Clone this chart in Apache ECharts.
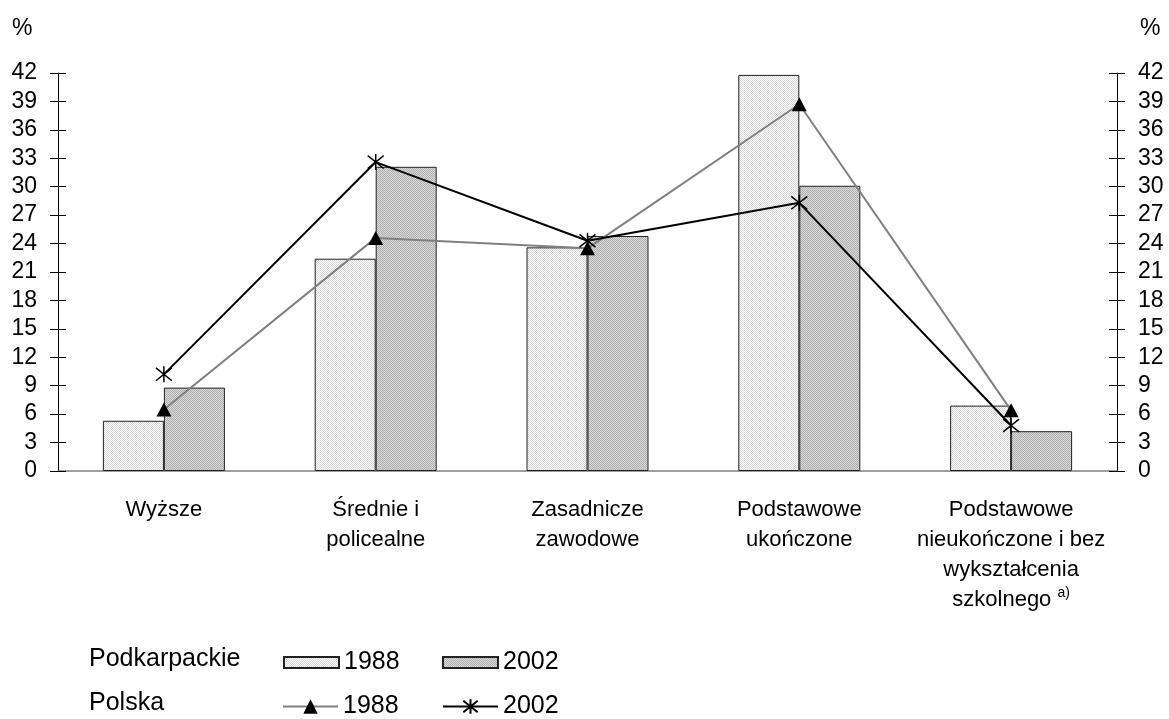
<!DOCTYPE html>
<html>
<head>
<meta charset="utf-8">
<script src="https://cdn.jsdelivr.net/npm/echarts@6/dist/echarts.min.js"></script>
<style>
  html, body { margin: 0; padding: 0; background: #fff; }
  #chart { width: 1169px; height: 719px; }
</style>
</head>
<body>
<div id="chart"></div>
<script>
// dane (%)
const categories = [
    'Wyższe',
    'Średnie i\npolicealne',
    'Zasadnicze\nzawodowe',
    'Podstawowe\nukończone',
    'Podstawowe\nnieukończone i bez\nwykształcenia\nszkolnego {sup|a)}'
];
const podkarpackie1988 = [5.3, 22.4, 23.6, 41.8, 6.9];
const podkarpackie2002 = [8.8, 32.1, 24.8, 30.1, 4.2];
const polska1988 = [6.5, 24.6, 23.5, 38.7, 6.4];
const polska2002 = [10.2, 32.6, 24.3, 28.3, 4.8];
const yTicks = { min: 0, max: 42, step: 3 };

const FONT = 'Liberation Sans';

// drobny wzór kropkowany jak w oryginale
function makePattern(base, dot) {
    const c = document.createElement('canvas');
    c.width = 2;
    c.height = 2;
    const ctx = c.getContext('2d');
    ctx.fillStyle = base;
    ctx.fillRect(0, 0, 2, 2);
    ctx.fillStyle = dot;
    ctx.fillRect(0, 0, 1, 1);
    ctx.fillRect(1, 1, 1, 1);
    return { image: c, repeat: 'repeat' };
}

const starPath = 'path://M0,0 L2,2 M2,0 L0,2 M1,-0.25 L1,2.25';

function valueAxis(position, inside) {
    return {
        type: 'value',
        position: position,
        min: yTicks.min,
        max: yTicks.max,
        interval: yTicks.step,
        axisLine: { show: !inside, lineStyle: { color: '#000', width: 1 } },
        axisTick: { show: true, inside: inside, length: 8, lineStyle: { color: '#000', width: 1 } },
        axisLabel: {
            show: !inside,
            margin: 21,
            color: '#000',
            fontFamily: FONT,
            fontSize: 23
        },
        splitLine: { show: false }
    };
}

function legendAt(name, left, top, h, icon) {
    const l = {
        data: [icon ? { name: name, icon: icon } : name],
        left: left,
        top: top,
        padding: 0,
        itemWidth: 55,
        itemHeight: h,
        selectedMode: false,
        formatter: n => n.split(' ')[1],
        textStyle: { color: '#000', fontFamily: FONT, fontSize: 25 }
    };
    return l;
}

const chart = echarts.init(document.getElementById('chart'));
const option = {
    animation: false,
    backgroundColor: '#fff',
    grid: { left: 58, right: 52, top: 73, bottom: 248, containLabel: false },
    xAxis: {
        type: 'category',
        data: categories,
        axisLine: { lineStyle: { color: '#808080', width: 1.5 } },
        axisTick: { show: false },
        axisLabel: {
            interval: 0,
            margin: 24,
            color: '#000',
            fontFamily: FONT,
            fontSize: 22,
            lineHeight: 30,
            align: 'center',
            rich: {
                sup: { fontSize: 14, fontFamily: FONT, color: '#000', padding: [0, 0, 14, 0] }
            }
        }
    },
    yAxis: [
        valueAxis('left', false),
        valueAxis('right', false),
        valueAxis('left', true),
        valueAxis('right', true)
    ],
    legend: [
        legendAt('Podkarpackie 1988', 283, 650, 11, 'rect'),
        legendAt('Podkarpackie 2002', 442, 650, 11, 'rect'),
        legendAt('Polska 1988', 282, 694, 18),
        legendAt('Polska 2002', 442, 694, 18)
    ],
    graphic: [
        { type: 'text', left: 12, top: 17, style: { text: '%', font: '23px ' + FONT, fill: '#000' } },
        { type: 'text', left: 1140, top: 17, style: { text: '%', font: '23px ' + FONT, fill: '#000' } },
        { type: 'text', left: 89, top: 647, style: { text: 'Podkarpackie', font: '25px ' + FONT, fill: '#000' } },
        { type: 'text', left: 89, top: 691, style: { text: 'Polska', font: '25px ' + FONT, fill: '#000' } }
    ],
    series: [
        {
            name: 'Podkarpackie 1988',
            type: 'bar',
            data: podkarpackie1988,
            barWidth: 61,
            barGap: '0%',
            itemStyle: { color: makePattern('#ffffff', '#d6d6d6'), borderColor: '#222', borderWidth: 1 }
        },
        {
            name: 'Podkarpackie 2002',
            type: 'bar',
            data: podkarpackie2002,
            barWidth: 61,
            barGap: '0%',
            itemStyle: { color: makePattern('#d8d8d8', '#b0b0b0'), borderColor: '#222', borderWidth: 1 }
        },
        {
            name: 'Polska 1988',
            type: 'line',
            data: polska1988,
            z: 5,
            symbol: 'triangle',
            symbolSize: [15, 14],
            showAllSymbol: true,
            itemStyle: { color: '#000' },
            lineStyle: { color: '#808080', width: 2 }
        },
        {
            name: 'Polska 2002',
            type: 'line',
            data: polska2002,
            z: 6,
            symbol: starPath,
            symbolSize: [16, 16],
            showAllSymbol: true,
            itemStyle: { color: '#000', borderColor: '#000', borderWidth: 1.5 },
            lineStyle: { color: '#000', width: 2 }
        }
    ]
};
chart.setOption(option);
</script>
</body>
</html>
